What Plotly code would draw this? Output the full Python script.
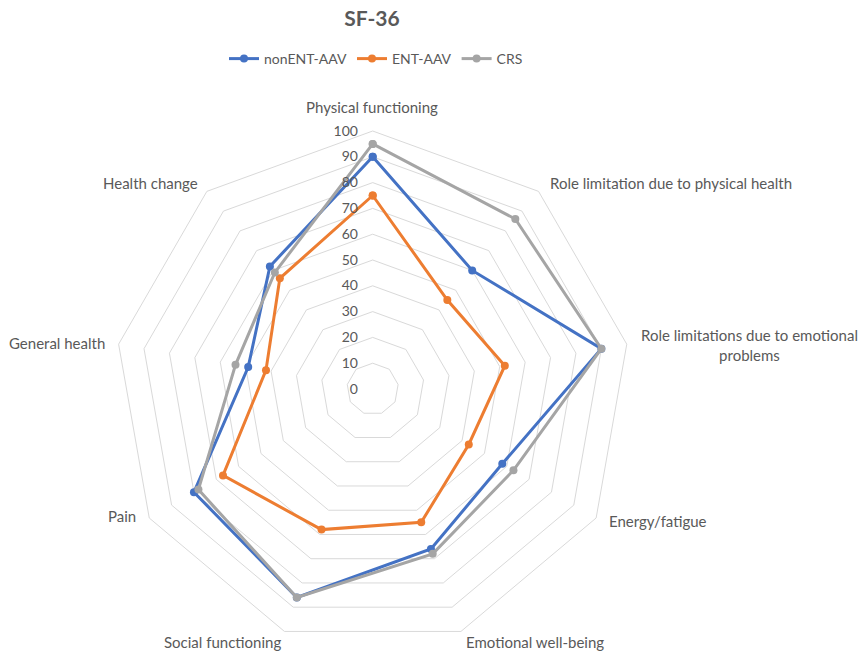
import plotly.graph_objects as go

categories = [
    "Physical functioning",
    "Role limitation due to physical health",
    "Role limitations due to emotional problems",
    "Energy/fatigue",
    "Emotional well-being",
    "Social functioning",
    "Pain",
    "General health",
    "Health change",
]
category_labels = [
    "Physical functioning",
    "Role limitation due to physical health",
    "Role limitations due to emotional<br>problems",
    "Energy/fatigue",
    "Emotional well-being",
    "Social functioning",
    "Pain",
    "General health",
    "Health change",
]
nonent_aav = [90, 60, 90, 58, 66, 86, 80, 49, 62]
ent_aav = [75, 45, 52, 43, 55, 58, 67, 42, 56]
crs = [95, 86, 90, 63, 68, 86, 78, 54, 59]
radial_ticks = list(range(0, 101, 10))

series = [
    ("nonENT-AAV", nonent_aav, "#4472C4"),
    ("ENT-AAV", ent_aav, "#ED7D31"),
    ("CRS", crs, "#A5A5A5"),
]

FONT = "Lato, 'Liberation Sans', sans-serif"
TXT = "#595959"

fig = go.Figure()
for name, vals, color in series:
    fig.add_trace(go.Scatterpolar(
        r=vals + [vals[0]],
        theta=categories + [categories[0]],
        mode="lines+markers",
        name=name,
        line=dict(color=color, width=3),
        marker=dict(color=color, size=8),
    ))

W, H = 860, 653
cx, cy, R = 372.7, 389.0, 258.0

label_pos = [
    (372, 107, "center"),
    (548, 183, "left"),
    (749, 345, "center"),
    (607, 521, "left"),
    (535, 642, "center"),
    (222, 642, "center"),
    (138, 516, "right"),
    (107, 343, "right"),
    (200, 183, "right"),
]
annotations = []
for text, (px, py, anc) in zip(category_labels, label_pos):
    annotations.append(dict(
        text=text, x=px / W, y=1 - py / H, xref="paper", yref="paper",
        xanchor=anc, yanchor="middle", showarrow=False, align="center",
        font=dict(family=FONT, size=15, color=TXT),
    ))

fig.update_layout(
    width=W, height=H,
    margin=dict(l=0, r=0, t=0, b=0),
    paper_bgcolor="white",
    plot_bgcolor="white",
    font=dict(family=FONT, size=14, color=TXT),
    title=dict(text="<b>SF-36</b>", x=372 / W, xanchor="center",
               y=1 - 19 / H, yanchor="middle",
               font=dict(family=FONT, size=21, color=TXT)),
    legend=dict(orientation="h", x=376 / W, xanchor="center",
                y=1 - 59 / H, yanchor="middle",
                font=dict(family=FONT, size=14, color=TXT),
                bgcolor="rgba(0,0,0,0)"),
    annotations=annotations,
    polar=dict(
        domain=dict(x=[(cx - R) / W, (cx + R) / W],
                    y=[(H - cy - R) / H, (H - cy + R) / H]),
        bgcolor="white",
        gridshape="linear",
        radialaxis=dict(
            range=[0, 100],
            tickvals=radial_ticks,
            ticktext=[str(v) + "\u2007\u2006\u2009" for v in radial_ticks],
            angle=90,
            side="counterclockwise",
            tickangle=90,
            showline=False,
            ticks="",
            gridcolor="#D9D9D9",
            gridwidth=1,
            tickfont=dict(family=FONT, size=14, color=TXT),
        ),
        angularaxis=dict(
            direction="clockwise",
            rotation=90,
            showgrid=False,
            showline=True,
            showticklabels=False,
            linecolor="#D9D9D9",
            linewidth=1,
            ticks="",
        ),
    ),
)

fig.write_html(
    "out.html",
    config={"displayModeBar": False},
    post_script="document.body.style.margin='0';document.body.style.overflow='hidden';",
)
